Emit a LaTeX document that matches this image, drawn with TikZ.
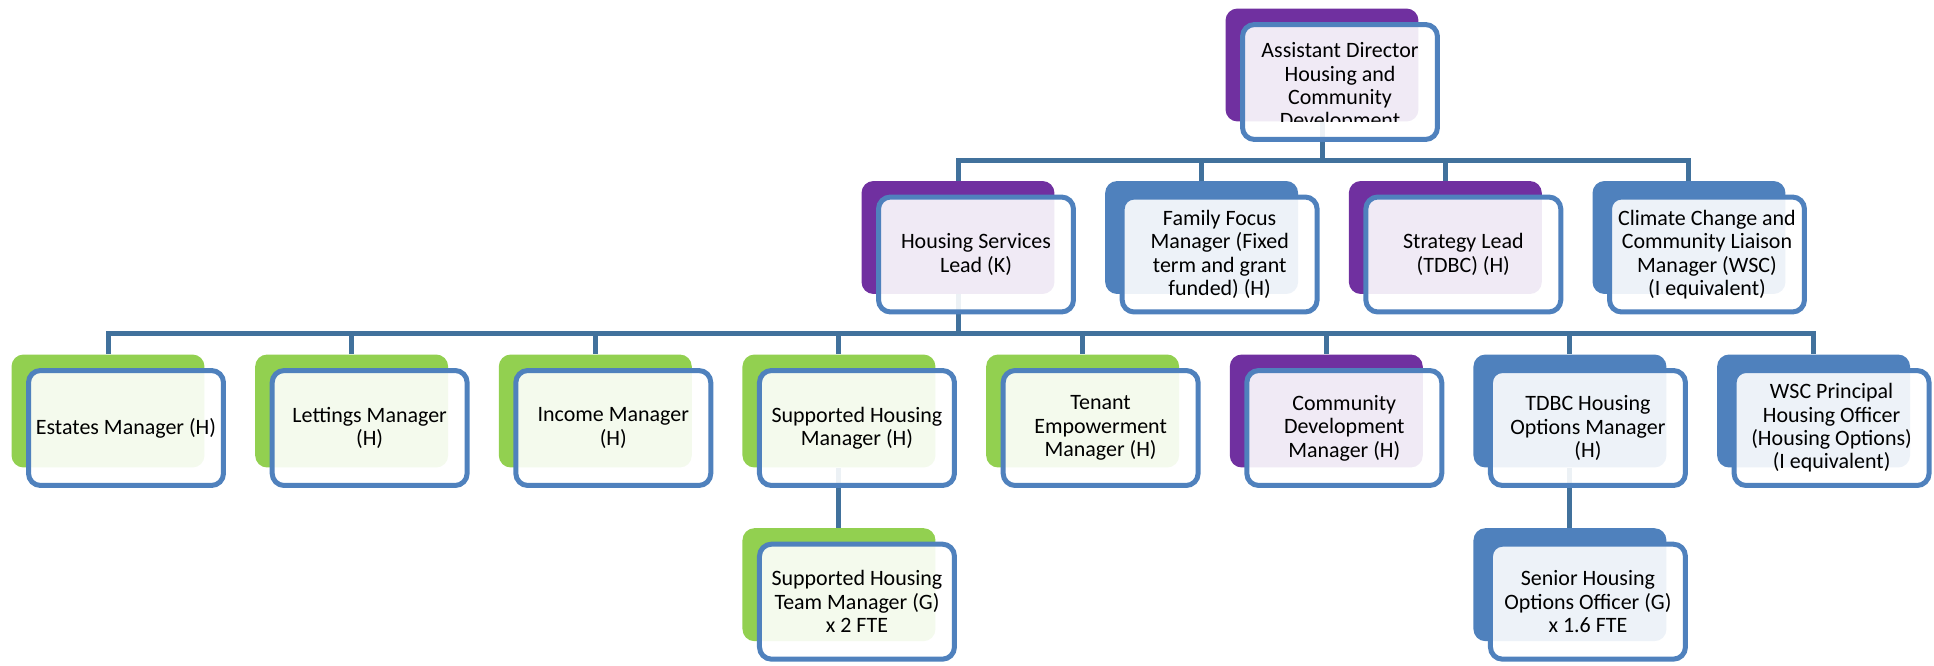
\documentclass[tikz,border=0pt]{standalone}
\usepackage{fontspec}
\setmainfont{Carlito}
\usepackage{tikz}
\usetikzlibrary{positioning, backgrounds}
\definecolor{orgPurple}{HTML}{7030A0}
\definecolor{orgGreen}{HTML}{92D050}
\definecolor{orgBlue}{HTML}{4F81BD}
\definecolor{orgLine}{HTML}{41719C}

\begin{document}
\begin{tikzpicture}[
  x=0.02cm, y=-0.02cm,
  node distance=1.2cm and 1.0cm,
  back/.style={
    rectangle, rounded corners=0.24cm, fill=#1,
    minimum width=3.86cm, minimum height=2.26cm, inner sep=0pt,
  },
  card/.style={
    rectangle, rounded corners=0.24cm, draw=orgBlue, line width=0.1cm,
    fill=white, fill opacity=0.9, text opacity=1,
    minimum width=3.9cm, minimum height=2.3cm, inner sep=0pt,
    font=\fontsize{12.5}{13.3}\selectfont, align=center,
  },
  conn/.style={draw=orgLine, line width=0.1cm},
]
\useasboundingbox (0,0) rectangle (1934,666);

% Top
\node[back=orgPurple] (topB) at (1322,65) {};
\node[card] (topF) at ([shift={(18,17)}]topB.center) {};
\begin{scope}
  \clip ([xshift=-0.3cm]topF.north west) rectangle ([xshift=0.3cm]topB.south -| topF.east);
  \node[font=\fontsize{12.5}{13.3}\selectfont, align=center] (topT) at ([yshift=-0.1cm]topF.center)
    {Assistant Director\\Housing and\\Community\\Development};
\end{scope}

% Second level
\node[back=orgPurple] (hslB) at (958,237.5) {};
\node[back=orgBlue, right=of hslB] (ffmB) {};
\node[back=orgPurple, right=of ffmB] (slB) {};
\node[back=orgBlue, right=of slB] (ccB) {};
\node[card] (hslF) at ([shift={(18,17)}]hslB.center) {Housing Services\\Lead (K)};
\node[card] (ffmF) at ([shift={(18,17)}]ffmB.center) {Family Focus\\Manager (Fixed\\term and grant\\funded) (H)};
\node[card] (slF) at ([shift={(18,17)}]slB.center) {Strategy Lead\\(TDBC) (H)};
\node[card] (ccF) at ([shift={(18,17)}]ccB.center) {Climate Change and\\Community Liaison\\Manager (WSC)\\(I equivalent)};

% Third level
\node[back=orgGreen] (estB) at (108,411) {};
\node[back=orgGreen, right=of estB] (letB) {};
\node[back=orgGreen, right=of letB] (incB) {};
\node[back=orgGreen, right=of incB] (shmB) {};
\node[back=orgGreen, right=of shmB] (temB) {};
\node[back=orgPurple, right=of temB] (cdmB) {};
\node[back=orgBlue, right=of cdmB] (tdbcB) {};
\node[back=orgBlue, right=of tdbcB] (wscB) {};
\node[card] (estF) at ([shift={(18,17)}]estB.center) {Estates Manager (H)};
\node[card] (letF) at ([shift={(18,17)}]letB.center) {Lettings Manager\\(H)};
\node[card] (incF) at ([shift={(18,17)}]incB.center) {Income Manager\\(H)};
\node[card] (shmF) at ([shift={(18,17)}]shmB.center) {Supported Housing\\Manager (H)};
\node[card] (temF) at ([shift={(18,17)}]temB.center) {Tenant\\Empowerment\\Manager (H)};
\node[card] (cdmF) at ([shift={(18,17)}]cdmB.center) {Community\\Development\\Manager (H)};
\node[card] (tdbcF) at ([shift={(18,17)}]tdbcB.center) {TDBC Housing\\Options Manager\\(H)};
\node[card] (wscF) at ([shift={(18,17)}]wscB.center) {WSC Principal\\Housing Officer\\(Housing Options)\\(I equivalent)};

% Fourth level
\node[back=orgGreen, below=of shmB] (shtmB) {};
\node[back=orgBlue, below=of tdbcB] (shoB) {};
\node[card] (shtmF) at ([shift={(18,17)}]shtmB.center) {Supported Housing\\Team Manager (G)\\x 2 FTE};
\node[card] (shoF) at ([shift={(18,17)}]shoB.center) {Senior Housing\\Options Officer (G)\\x 1.6 FTE};

% Connectors
\begin{scope}[on background layer]
\draw[conn] (topB.south) -- ++(0,38.5) -| (hslB.north);
\draw[conn] (topB.south) -- ++(0,38.5) -| (ffmB.north);
\draw[conn] (topB.south) -- ++(0,38.5) -| (slB.north);
\draw[conn] (topB.south) -- ++(0,38.5) -| (ccB.north);
\draw[conn] (hslB.south) -- ++(0,39) -| (estB.north);
\draw[conn] (hslB.south) -- ++(0,39) -| (letB.north);
\draw[conn] (hslB.south) -- ++(0,39) -| (incB.north);
\draw[conn] (hslB.south) -- ++(0,39) -| (shmB.north);
\draw[conn] (hslB.south) -- ++(0,39) -| (temB.north);
\draw[conn] (hslB.south) -- ++(0,39) -| (cdmB.north);
\draw[conn] (hslB.south) -- ++(0,39) -| (tdbcB.north);
\draw[conn] (hslB.south) -- ++(0,39) -| (wscB.north);
\draw[conn] (shmB.south) -- (shtmB.north);
\draw[conn] (tdbcB.south) -- (shoB.north);
\end{scope}

\end{tikzpicture}
\end{document}
